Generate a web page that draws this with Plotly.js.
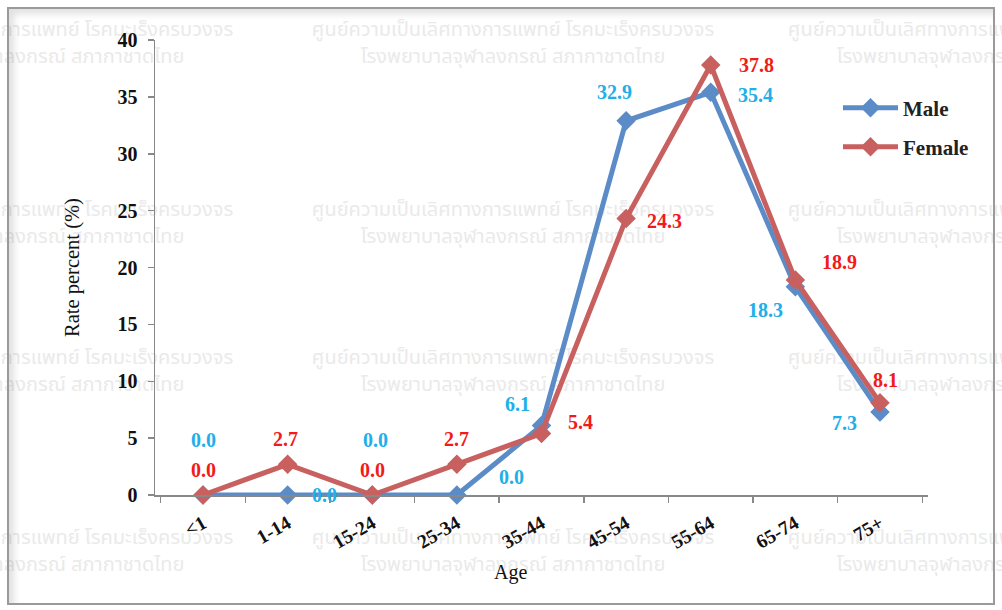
<!DOCTYPE html>
<html>
<head>
<meta charset="utf-8">
<script src="https://cdn.plot.ly/plotly-3.0.1.min.js"></script>
<style>
html,body{margin:0;padding:0;background:#fff;}
#wrap{position:relative;width:1002px;height:610px;overflow:hidden;background:#fff;}
#wm{position:absolute;left:0;top:0;width:1002px;height:610px;}
.wml{position:absolute;transform:translate(-50%,-50%);white-space:nowrap;color:#eaeaea;
  font-family:'Noto Sans Thai','Noto Sans Thai UI',Loma,Garuda,'Noto Sans','DejaVu Sans',sans-serif;font-size:20px;line-height:1;}
#chart{position:absolute;left:0;top:0;width:1002px;height:610px;}
#frame{position:absolute;left:7px;top:7px;width:984px;height:594px;border:2px solid #9a9a9a;box-shadow:inset 5px 5px 7px rgba(0,0,0,0.12);pointer-events:none;}
</style>
</head>
<body>
<div id="wrap"><div id="wm"></div><div id="chart"></div><div id="frame"></div></div>
<script>
// ---- data ----
const ageGroups = ['<1','1-14','15-24','25-34','35-44','45-54','55-64','65-74','75+'];
const maleRate = [0.0, 0.0, 0.0, 0.0, 6.1, 32.9, 35.4, 18.3, 7.3];
const femaleRate = [0.0, 2.7, 0.0, 2.7, 5.4, 24.3, 37.8, 18.9, 8.1];
const yTicks = [0,5,10,15,20,25,30,35,40];
const watermarkLine1 = 'ศูนย์ความเป็นเลิศทางการแพทย์ โรคมะเร็งครบวงจร';
const watermarkLine2 = 'โรงพยาบาลจุฬาลงกรณ์ สภากาชาดไทย';

// label placement (pixel shifts) - styling only
const maleShift = [[0,55],[37,0],[3,55],[55,18],[-24,22],[-12,29],[45,-3],[-30,-23],[-35,-11]];
const femaleShift = [[0,25],[-2,25],[0,25],[0,25],[39,12],[38,-2],[46,0],[44,18],[6,23]];

const serif = 'Liberation Serif, Times New Roman, serif';

// watermark grid (behind the chart)
const wmCols = [32, 513, 989];
const wmRows = [30, 210, 358, 538];
const wm = document.getElementById('wm');
wmRows.forEach(r => wmCols.forEach(c => {
  [[watermarkLine1, r],[watermarkLine2, r + 27]].forEach(([t, y]) => {
    const d = document.createElement('div');
    d.className = 'wml'; d.textContent = t;
    d.style.left = c + 'px'; d.style.top = y + 'px';
    wm.appendChild(d);
  });
}));

// plot area in pixels
const L = 155, R = 928, T = 40, B = 495;
const px = x => (x - L) / (R - L);
const py = y => (B - y) / (B - T);

const annotations = [];
ageGroups.forEach((g,i) => {
  annotations.push({x:g,y:maleRate[i],text:maleRate[i].toFixed(1),showarrow:false,
    xshift:maleShift[i][0],yshift:maleShift[i][1],
    font:{family:serif,size:20,color:'#22aee8',weight:'bold'}});
  annotations.push({x:g,y:femaleRate[i],text:femaleRate[i].toFixed(1),showarrow:false,
    xshift:femaleShift[i][0],yshift:femaleShift[i][1],
    font:{family:serif,size:20,color:'#f21a1a',weight:'bold'}});
});
// x-axis title placed as in the reference
annotations.push({xref:'paper',yref:'paper',x:px(510),y:py(572),text:'Age',showarrow:false,
  xanchor:'center',yanchor:'middle',font:{family:serif,size:20,color:'#111'}});

const traces = [
  {x:ageGroups,y:maleRate,name:'Male',type:'scatter',mode:'lines+markers',
   line:{color:'#5b8cc8',width:5},marker:{symbol:'diamond',size:15,color:'#5b8cc8'},
   cliponaxis:false,legend:'legend'},
  {x:ageGroups,y:femaleRate,name:'Female',type:'scatter',mode:'lines+markers',
   line:{color:'#c86060',width:5},marker:{symbol:'diamond',size:15,color:'#c86060'},
   cliponaxis:false,legend:'legend2'}
];

const legendCommon = {font:{family:serif,size:21,color:'#222',weight:'bold'},bgcolor:'rgba(0,0,0,0)',
  xanchor:'left',yanchor:'middle',itemwidth:55};

const layout = {
  width:1002,height:610,
  margin:{l:L,r:1002-R,t:T,b:610-B},
  paper_bgcolor:'rgba(0,0,0,0)',plot_bgcolor:'rgba(0,0,0,0)',
  font:{family:serif,color:'#000'},
  xaxis:{type:'category',categoryorder:'array',categoryarray:ageGroups,
    showgrid:false,zeroline:false,showline:true,linecolor:'#888',linewidth:1.5,
    ticks:'outside',tickson:'boundaries',ticklen:6,tickcolor:'#888',tickwidth:1.5,
    tickangle:-30,ticklabelstandoff:8,tickfont:{family:serif,size:19.5,color:'#111',weight:'bold'},
    automargin:false},
  yaxis:{range:[0,40],tickvals:yTicks,ticktext:yTicks.map(String),
    showgrid:false,zeroline:false,showline:true,linecolor:'#888',linewidth:1.5,
    ticks:'outside',ticklen:6,tickcolor:'#888',tickwidth:1.5,ticklabelstandoff:6,
    tickfont:{family:serif,size:20,color:'#111',weight:'bold'},
    title:{text:'Rate percent (%)',font:{family:serif,size:20.5,color:'#111'},standoff:32},
    automargin:false},
  showlegend:true,
  legend:Object.assign({x:px(838),y:py(108)},legendCommon),
  legend2:Object.assign({x:px(838),y:py(147)},legendCommon),
  annotations:annotations
};

Plotly.newPlot('chart',traces,layout,{displayModeBar:false,staticPlot:true});
</script>
</body>
</html>
